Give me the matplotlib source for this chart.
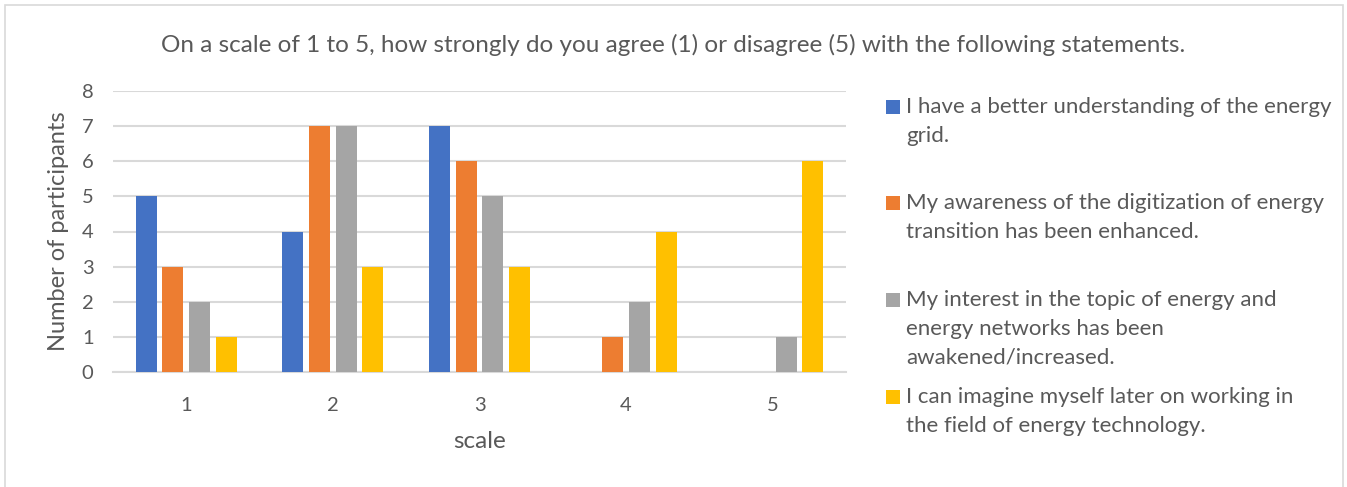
import matplotlib.pyplot as plt
from matplotlib.patches import Rectangle
import numpy as np

plt.rcParams['font.family'] = ['Lato', 'DejaVu Sans']

# survey answers: number of participants per scale value
scale = ["1", "2", "3", "4", "5"]
understanding = [5, 4, 7, 0, 0]
awareness = [3, 7, 6, 1, 0]
interest = [2, 7, 5, 2, 1]
career = [1, 3, 3, 4, 6]

labels = [
    "I have a better understanding of the energy\ngrid.",
    "My awareness of the digitization of energy\ntransition has been enhanced.",
    "My interest in the topic of energy and\nenergy networks has been\nawakened/increased.",
    "I can imagine myself later on working in\nthe field of energy technology.",
]
colors = ["#4472C4", "#ED7D31", "#A5A5A5", "#FFC000"]
title = "On a scale of 1 to 5, how strongly do you agree (1) or disagree (5) with the following statements."

W, H = 1347, 487
txt = "#595959"

fig = plt.figure(figsize=(W / 100, H / 100), dpi=100)
ax = fig.add_axes([113 / W, 1 - 372 / H, (846 - 113) / W, (372 - 91) / H])

series = [understanding, awareness, interest, career]
x = np.arange(len(scale))
step = 0.182
width = 0.143
for i, (vals, c) in enumerate(zip(series, colors)):
    ax.bar(x + (i - 1.5) * step, vals, width, color=c, zorder=3)

ax.set_xlim(-0.5, len(scale) - 0.5)
ax.set_ylim(0, 8)
ax.set_yticks(range(0, 9))
ax.set_xticks(x)
ax.set_xticklabels(scale)
ax.grid(axis="y", color="#D9D9D9", linewidth=1.5, zorder=0)
for s in ["top", "right", "left"]:
    ax.spines[s].set_visible(False)
ax.spines["bottom"].set_color("#D9D9D9")
ax.spines["bottom"].set_linewidth(1.5)
ax.tick_params(axis="both", length=0, labelsize=14.5, labelcolor=txt)
ax.tick_params(axis="y", pad=14)
ax.tick_params(axis="x", pad=18)
ax.set_xlabel("scale", fontsize=17.5, color=txt, labelpad=12)
ax.set_ylabel("Number of participants", fontsize=17, color=txt, labelpad=9)

fig.text(0.5, 1 - 45 / H, title, ha="center", va="center", fontsize=17.5, color=txt)

# legend drawn by hand so each entry sits in its own slot
baselines = [113, 209, 306, 403]
for lab, c, y0 in zip(labels, colors, baselines):
    fig.add_artist(Rectangle((886 / W, 1 - (y0 + 0.5) / H), 14 / W, 14 / H,
                             transform=fig.transFigure, color=c, lw=0))
    for j, line in enumerate(lab.split("\n")):
        fig.text(906 / W, 1 - (y0 + j * 29) / H, line, ha="left", va="baseline",
                 fontsize=16, color=txt)

# chart frame
fig.add_artist(Rectangle((5 / W, -0.05), (1343 - 5) / W, 1.05 - 5 / H,
                         transform=fig.transFigure, fill=False,
                         edgecolor="#D9D9D9", lw=1.2))

fig.savefig("out.png", dpi=100)
